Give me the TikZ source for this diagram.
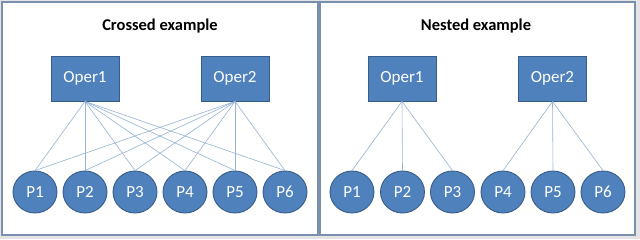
\documentclass[tikz,border=0pt]{standalone}
\usepackage{fontspec}
\setmainfont{Carlito}
\usetikzlibrary{shapes.geometric}
\begin{document}
\begin{tikzpicture}[x=1pt,y=-1pt,
  panel/.style={draw=panelc,fill=white,line width=1.2pt},
  oper/.style={draw=bordc,fill=fillc,line width=0.9pt,minimum width=68pt,minimum height=45pt,inner sep=0pt,text=white,font=\fontsize{17}{19}\selectfont},
  pnode/.style={ellipse,draw=bordc,fill=fillc,line width=0.9pt,minimum width=44pt,minimum height=42pt,inner sep=0pt,text=white,font=\fontsize{17}{19}\selectfont},
  title/.style={font=\bfseries\fontsize{16.5}{19}\selectfont,text=black},
  link/.style={draw=linkc,line width=0.6pt}]
\definecolor{fillc}{HTML}{4F81BD}
\definecolor{bordc}{HTML}{385D8A}
\definecolor{linkc}{HTML}{95B3D7}
\definecolor{panelc}{HTML}{7B8FAE}
\definecolor{bgc}{HTML}{E4E4E4}
\useasboundingbox (0,0) rectangle (640,239);
\fill[bgc] (0,0) rectangle (640,239);
\draw[panel] (2,2) rectangle (318,235);
\draw[panel] (320,2) rectangle (635,235);
% left panel
\node[title] (t1) at (160,26) {Crossed example};
\node[oper] (a1) at (85,78.5) {Oper1};
\node[oper] (a2) at (235,78.5) {Oper2};
\foreach \i/\x in {1/35,2/85,3/135,4/185,5/235,6/285}{
  \node[pnode] (c\i) at (\x,192) {P\i};
}
\foreach \i in {1,...,6}{
  \draw[link] (a1.south) -- (c\i.north);
  \draw[link] (a2.south) -- (c\i.north);
}
% right panel
\node[title] (t2) at (476,26) {Nested example};
\node[oper] (b1) at (402,78.5) {Oper1};
\node[oper] (b2) at (552.5,78.5) {Oper2};
\foreach \i/\x in {1/352,2/402.5,3/452.5,4/503,5/553,6/603}{
  \node[pnode] (d\i) at (\x,192) {P\i};
}
\foreach \i in {1,2,3}{ \draw[link] (b1.south) -- (d\i.north); }
\foreach \i in {4,5,6}{ \draw[link] (b2.south) -- (d\i.north); }
\end{tikzpicture}
\end{document}
